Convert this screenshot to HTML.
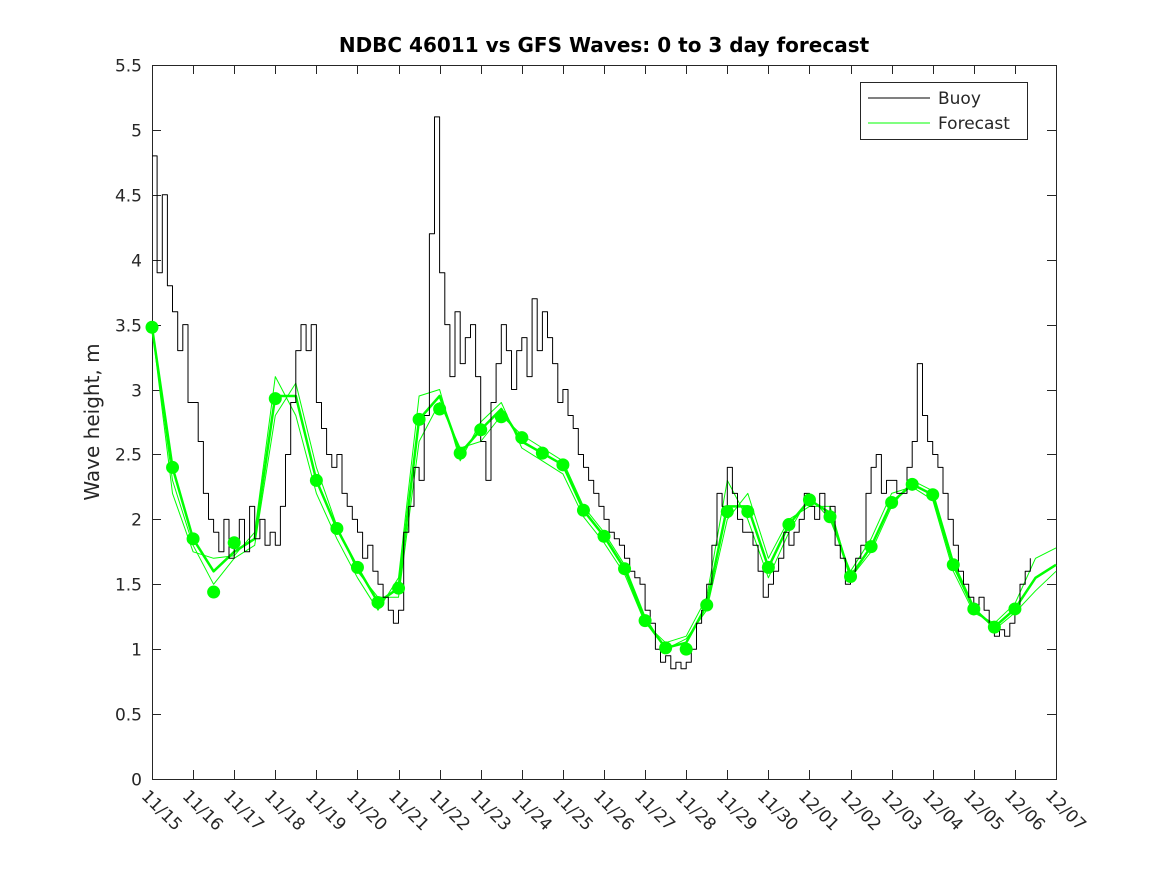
<!DOCTYPE html>
<html><head><meta charset="utf-8"><style>
body{margin:0;background:#fff}
svg{display:block}
text{font-family:"DejaVu Sans","Liberation Sans",sans-serif;fill:#262626}
</style></head><body>
<svg id="chart" width="1167" height="875">
<rect x="0" y="0" width="1167" height="875" fill="#fff"/>
<text x="604" y="52" text-anchor="middle" font-size="20" font-weight="bold" style="fill:#000">NDBC 46011 vs GFS Waves: 0 to 3 day forecast</text>
<text transform="translate(99,422) rotate(-90)" text-anchor="middle" font-size="20">Wave height, m</text>
<g id="axes"></g>
<g id="series"></g>
<g>
<rect x="860.5" y="82.5" width="167" height="57" fill="#fff" stroke="#262626"/>
<line x1="868" y1="98" x2="930" y2="98" stroke="#000"/>
<text x="938" y="104" font-size="17">Buoy</text>
<line x1="868" y1="123" x2="930" y2="123" stroke="#00ff00"/>
<text x="938" y="129" font-size="17">Forecast</text>
</g>
</svg>
<script>
const xTickLabels=["11/15","11/16","11/17","11/18","11/19","11/20","11/21","11/22","11/23","11/24","11/25","11/26","11/27","11/28","11/29","11/30","12/01","12/02","12/03","12/04","12/05","12/06","12/07"];
const yTicks=[0,0.5,1,1.5,2,2.5,3,3.5,4,4.5,5,5.5];
const buoy=[
4.8,3.9,4.5,3.8,3.6,3.3,3.5,2.9,
2.9,2.6,2.2,2.0,1.9,1.75,2.0,1.7,
1.8,2.0,1.75,2.1,1.85,2.0,1.8,1.9,
1.8,2.1,2.5,2.9,3.3,3.5,3.3,3.5,
2.9,2.7,2.5,2.4,2.5,2.2,2.1,2.0,
1.9,1.7,1.8,1.6,1.5,1.4,1.3,1.2,
1.3,1.9,2.1,2.4,2.3,2.8,4.2,5.1,
3.9,3.5,3.1,3.6,3.2,3.4,3.5,3.1,
2.6,2.3,2.9,3.2,3.5,3.3,3.0,3.3,
3.4,3.1,3.7,3.3,3.6,3.4,3.2,2.9,
3.0,2.8,2.7,2.5,2.4,2.3,2.2,2.1,
2.0,1.9,1.85,1.8,1.7,1.6,1.55,1.5,
1.3,1.2,1.0,0.9,0.95,0.85,0.9,0.85,
0.9,1.0,1.2,1.3,1.5,1.8,2.2,2.1,
2.4,2.2,2.0,1.9,1.9,1.8,1.6,1.4,
1.5,1.6,1.7,1.9,1.8,1.9,2.0,2.2,
2.1,2.0,2.2,2.0,2.1,1.8,1.7,1.5,
1.6,1.7,1.8,2.2,2.4,2.5,2.2,2.3,
2.3,2.2,2.2,2.4,2.6,3.2,2.8,2.6,
2.5,2.4,2.2,2.0,1.8,1.6,1.5,1.4,
1.3,1.4,1.3,1.2,1.1,1.15,1.1,1.2,
1.3,1.5,1.6,1.7];
const fcA=[3.48,2.40,1.85,1.60,1.75,1.85,2.95,2.95,2.30,1.93,1.63,1.36,1.47,2.77,2.95,2.51,2.69,2.85,2.60,2.51,2.42,2.07,1.87,1.62,1.22,1.01,1.05,1.34,2.10,2.10,1.63,1.96,2.15,2.05,1.56,1.79,2.13,2.27,2.19,1.65,1.31,1.17,1.31,1.55,1.65];
const fcB=[3.48,2.20,1.75,1.70,1.72,1.90,3.10,2.80,2.20,1.85,1.55,1.30,1.55,2.95,3.00,2.45,2.75,2.90,2.55,2.45,2.35,2.02,1.82,1.58,1.20,1.05,1.10,1.40,2.30,2.00,1.55,1.90,2.18,2.00,1.60,1.85,2.20,2.25,2.15,1.60,1.28,1.20,1.35,1.70,1.78];
const fcC=[3.48,2.30,1.80,1.50,1.70,1.80,2.80,3.05,2.40,1.95,1.60,1.40,1.40,2.60,2.90,2.55,2.60,2.80,2.65,2.55,2.45,2.10,1.90,1.65,1.25,1.00,1.08,1.30,2.00,2.20,1.70,2.00,2.10,2.10,1.55,1.75,2.10,2.30,2.22,1.68,1.33,1.15,1.28,1.45,1.60];
const dotDays=[0,0.5,1,1.5,2,3,4,4.5,5,5.5,6,6.5,7,7.5,8,8.5,9,9.5,10,10.5,11,11.5,12,12.5,13,13.5,14,14.5,15,15.5,16,16.5,17,17.5,18,18.5,19,19.5,20,20.5,21];
const dotVals=[3.48,2.40,1.85,1.44,1.82,2.93,2.30,1.93,1.63,1.36,1.47,2.77,2.85,2.51,2.69,2.79,2.63,2.51,2.42,2.07,1.87,1.62,1.22,1.01,1.00,1.34,2.06,2.06,1.63,1.96,2.15,2.02,1.56,1.79,2.13,2.27,2.19,1.65,1.31,1.17,1.31];
const X0=152,X1=1056,Y0=779,Y1=65;
const xs=d=>X0+(X1-X0)*d/22;
const ys=v=>Y0-(Y0-Y1)*v/5.5;
const NS="http://www.w3.org/2000/svg";
const ax=document.getElementById('axes'),se=document.getElementById('series');
function mk(tag,attrs,parent){const e=document.createElementNS(NS,tag);for(const k in attrs)e.setAttribute(k,attrs[k]);parent.appendChild(e);return e;}
const box=mk('rect',{x:X0+.5,y:Y1+.5,width:X1-X0,height:Y0-Y1,fill:'none',stroke:'#262626'},ax);


yTicks.forEach(v=>{const y=Math.round(ys(v))+.5;
mk('line',{x1:X0,y1:y,x2:X0+9,y2:y,stroke:'#262626'},ax);
mk('line',{x1:X1-9,y1:y,x2:X1,y2:y,stroke:'#262626'},ax);
const t=mk('text',{x:X0-10,y:y+6,'text-anchor':'end','font-size':17},ax);t.textContent=String(v);

});
xTickLabels.forEach((l,i)=>{const x=Math.round(xs(i))+.5;
mk('line',{x1:x,y1:Y0,x2:x,y2:Y0-9,stroke:'#262626'},ax);
mk('line',{x1:x,y1:Y1,x2:x,y2:Y1+9,stroke:'#262626'},ax);
const t=mk('text',{transform:`translate(${x-12},${Y0+18}) rotate(45)`,'font-size':17},ax);t.textContent=l;

});
function path(arr,step,color,w,name,stepped){let d='';arr.forEach((v,i)=>{const x=xs(i*step).toFixed(1),y=ys(v).toFixed(1);
if(i===0)d+='M'+x+','+y;else if(stepped)d+='H'+x+'V'+y;else d+='L'+x+','+y;});
const p=mk('path',{d,fill:'none',stroke:color,'stroke-width':w,'stroke-linejoin':'round'},se);

}
path(fcB,0.5,'#00ff00',1,'forecast-line-b');
path(fcC,0.5,'#00ff00',1,'forecast-line-c');
path(fcA,0.5,'#00ff00',2.5,'forecast-line-a');
path(buoy,0.125,'#000',1,'buoy-line',true);
dotDays.forEach((d,i)=>{const c=mk('circle',{cx:xs(d),cy:ys(dotVals[i]),r:6.5,fill:'#00ff00'},se);

});
</script>
</body></html>
